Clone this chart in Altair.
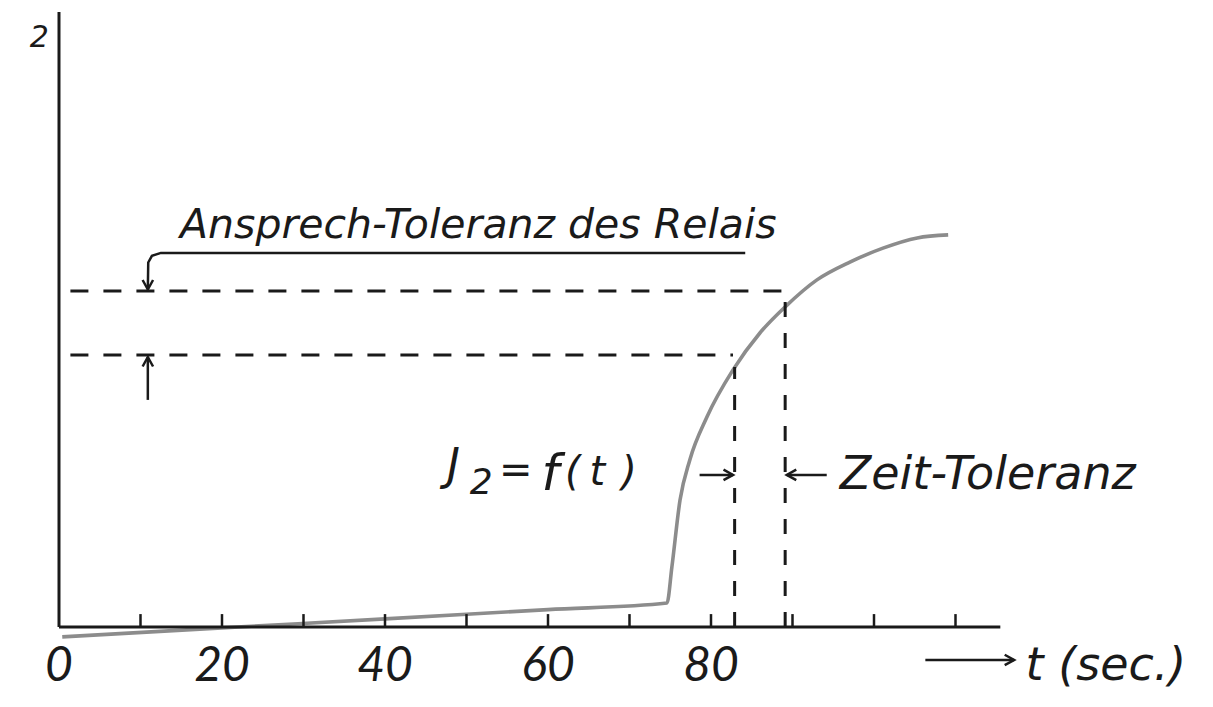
import altair as alt
import pandas as pd

# Relay current J2 = f(t) over time t (sec.)
t_curve = [0.4, 20.0, 40.0, 60.0, 74.6, 75.2, 76.2, 77.4, 79.5, 82.7, 86.0, 89.1, 93.0, 97.1, 101.1, 105.3, 109.1]
j_curve = [-0.033, -0.003, 0.027, 0.058, 0.08, 0.2, 0.423, 0.557, 0.70, 0.857, 0.98, 1.067, 1.157, 1.217, 1.263, 1.297, 1.307]

# pick-up tolerance band of the relay and the resulting time tolerance
band_upper = 1.12
band_lower = 0.907
t_cross_lower = 82.9
t_cross_upper = 89.1
j_cross_upper = 1.09

# axes
tick_t = [10, 20, 30, 40, 50, 60, 70, 80, 90, 100, 110]
label_t = [0, 20, 40, 60, 80]
label_text = ["0", "20", "40", "60", "80"]
t_axis_end = 115.5
j_axis_top = 2.05

TEXT_FONT = "DejaVu Sans, sans-serif"
DIGIT_FONT = "Lato, sans-serif"
INK = "#1a1a1a"

xs = alt.Scale(domain=[-7.239, 141.595], nice=False, zero=False)
ys = alt.Scale(domain=[-0.2667, 2.09], nice=False, zero=False)
X = lambda f: alt.X(f, type="quantitative", scale=xs, axis=None)
Y = lambda f: alt.Y(f, type="quantitative", scale=ys, axis=None)

curve_df = pd.DataFrame({"t": t_curve, "j": j_curve})
curve = alt.Chart(curve_df).mark_line(color="#8c8c8c", strokeWidth=3.6, interpolate="monotone").encode(
    x=X("t"), y=Y("j"), order="t:Q")

# axis lines
axes_df = pd.DataFrame({"x1": [0, 0], "x2": [t_axis_end, 0], "y1": [0, 0], "y2": [0, j_axis_top]})
axes = alt.Chart(axes_df).mark_rule(color=INK, strokeWidth=3).encode(
    x=X("x1"), x2="x2", y=Y("y1"), y2="y2")

ticks_df = pd.DataFrame({"t": tick_t, "y1": [0] * len(tick_t), "y2": [0.043] * len(tick_t)})
ticks = alt.Chart(ticks_df).mark_rule(color=INK, strokeWidth=2.5).encode(
    x=X("t"), y=Y("y1"), y2="y2")

labels_df = pd.DataFrame({"t": label_t, "y": [-0.18] * len(label_t), "text": label_text})
labels = alt.Chart(labels_df).mark_text(font=DIGIT_FONT, fontStyle="italic", fontWeight=400, fontSize=48,
                                        align="center", baseline="alphabetic", color=INK).encode(
    x=X("t"), y=Y("y"), text="text")

# dashed tolerance lines
hdash_df = pd.DataFrame({"x1": [1.4, 1.4], "x2": [88.8, 82.7], "y": [band_upper, band_lower]})
hdash = alt.Chart(hdash_df).mark_rule(color=INK, strokeWidth=3, strokeDash=[18, 15]).encode(
    x=X("x1"), x2="x2", y=Y("y"))
vdash_df = pd.DataFrame({"t": [t_cross_lower, t_cross_upper], "y1": [0, 0], "y2": [band_lower - 0.04, j_cross_upper]})
vdash = alt.Chart(vdash_df).mark_rule(color=INK, strokeWidth=3, strokeDash=[15, 16]).encode(
    x=X("t"), y=Y("y1"), y2="y2")

# leader lines of the arrows
lead_df = pd.DataFrame({
    "k": ["a"] * 5 + ["b"] * 2 + ["c"] * 2 + ["d"] * 2 + ["e"] * 2,
    "i": [0, 1, 2, 3, 4, 0, 1, 0, 1, 0, 1, 0, 1],
    "t": [84.2, 12.5, 11.4, 10.95, 10.9, 10.9, 10.9, 78.6, 82.7, 94.2, 89.3, 106.3, 117.2],
    "y": [1.247, 1.247, 1.237, 1.215, 1.125, 0.757, 0.9, 0.507, 0.507, 0.507, 0.507, -0.11, -0.11],
})
leads = alt.Chart(lead_df).mark_line(color=INK, strokeWidth=2.5).encode(
    x=X("t"), y=Y("y"), detail="k:N", order="i:Q")

head_df = pd.DataFrame({
    "t": [10.9, 10.9, 82.7, 89.3, 117.2],
    "y": [1.125, 0.9, 0.507, 0.507, -0.11],
    "angle": [180, 0, 90, 270, 90],
})
heads = alt.Chart(head_df).mark_point(shape="M -0.55 1 L 0 0 L 0.55 1", filled=False, color=INK,
                                      strokeWidth=2.5, size=360, opacity=1).encode(
    x=X("t"), y=Y("y"), angle=alt.Angle("angle:Q", scale=None))

# annotations
note_df = pd.DataFrame({
    "t": [14.85, 47.6, 50.4, 54.0, 59.2, 62.1, 65.1, 69.0, 95.8, 118.6, -3.6],
    "y": [1.297, 0.49, 0.443, 0.48, 0.457, 0.473, 0.473, 0.473, 0.46, -0.177, 1.933],
    "text": ["Ansprech-Toleranz des Relais", "J", "2", "=", "f", "(", "t", ")",
             "Zeit-Toleranz", "t (sec.)", "2"],
    "size": [41, 44, 36, 40, 50, 40, 40, 40, 46, 46, 30],
})
notes = alt.Chart(note_df).mark_text(font=TEXT_FONT, fontStyle="italic", align="left", baseline="alphabetic",
                                     color=INK).encode(
    x=X("t"), y=Y("y"), text="text", size=alt.Size("size:Q", scale=None))

chart = alt.layer(curve, axes, ticks, labels, hdash, vdash, leads, heads, notes).properties(
    width=1213, height=707, padding=0, autosize="none", background="white"
).configure_view(stroke=None)

chart.save("out.html", embed_options={"renderer": "svg", "actions": False})
